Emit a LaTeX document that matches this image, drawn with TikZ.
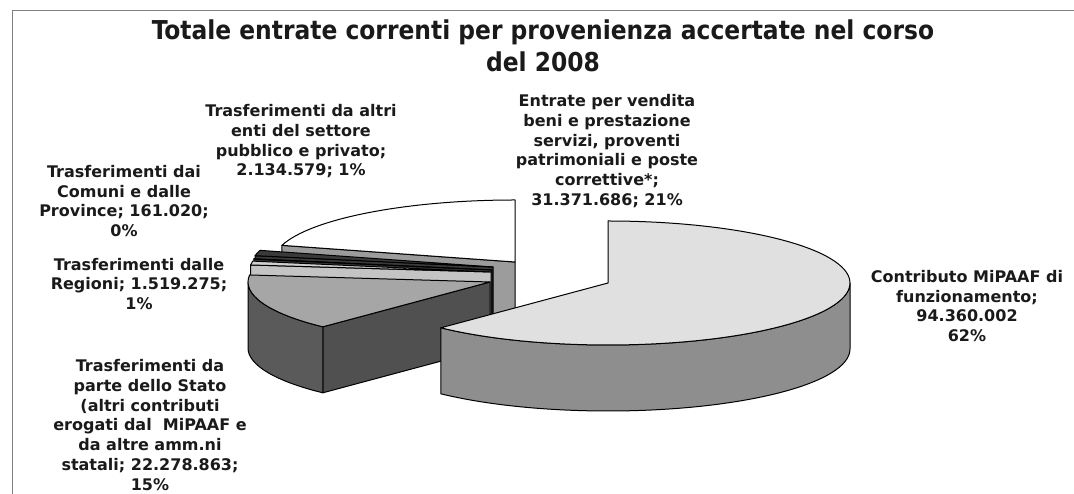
\documentclass[tikz,border=0pt]{standalone}
\usepackage{fontspec}
\setmainfont{DejaVu Sans}
\newfontfamily\titlefont{DejaVu Sans Condensed}
\definecolor{txt}{HTML}{1A1A1A}
\definecolor{frame}{HTML}{808080}
\definecolor{cTop}{HTML}{E0E0E0}
\definecolor{cWall}{HTML}{8E8E8E}
\definecolor{eTop}{HTML}{FFFFFF}
\definecolor{eWall}{HTML}{9C9C9C}
\definecolor{aCol}{HTML}{3A3A3A}
\definecolor{rTop}{HTML}{CFCFCF}
\definecolor{rWall}{HTML}{C4C4C4}
\definecolor{sTop}{HTML}{A6A6A6}
\definecolor{sWall}{HTML}{5A5A5A}
\definecolor{sRad}{HTML}{505050}
\newcommand\pieTop[5]{\filldraw[face,#5] (#1,#2) -- ({#1+242*cos(#3)},{#2+62*sin(#3)}) arc[start angle=#3,end angle=#4,x radius=242,y radius=62] -- cycle;}
\newcommand\pieRad[4]{\filldraw[face,#4] (#1,#2) -- ({#1+242*cos(#3)},{#2+62*sin(#3)}) -- ({#1+242*cos(#3)},{#2+62*sin(#3)-66}) -- (#1,#2-66) -- cycle;}
\newcommand\pieOut[5]{\filldraw[face,#5] ({#1+242*cos(#3)},{#2+62*sin(#3)}) arc[start angle=#3,end angle=#4,x radius=242,y radius=62] -- ++(0,-66) arc[start angle=#4,end angle=#3,x radius=242,y radius=62] -- cycle;}
\tikzset{
  face/.style={draw=black,line width=1pt,line join=round},
  lab/.style={font=\bfseries\fontsize{16}{19.7}\selectfont,text=txt,align=center,inner sep=0pt},
  ttl/.style={font=\titlefont\bfseries\fontsize{26}{32}\selectfont,text=txt,align=center,inner sep=0pt}
}
\begin{document}
\begin{tikzpicture}[x=1pt,y=1pt]
\useasboundingbox (0,0) rectangle (1074,494);
\clip (0,0) rectangle (1074,494);
\fill[white] (0,0) rectangle (1074,494);
\draw[frame,line width=1pt] (12,-10) -- (12,483) -- (1085,483);
% Entrate (21%)
\pieRad{515}{232}{164.4}{fill=eWall}
\pieTop{515}{232}{90}{164.4}{fill=eTop}
% Altri enti (1%)
\pieRad{493}{227}{169.5}{fill=aCol}
\pieTop{493}{227}{164.4}{169.5}{fill=aCol}
% Comuni (0%)
\pieRad{492}{224}{169.9}{fill=aCol}
\pieTop{492}{224}{169.5}{169.9}{fill=aCol}
% Regioni (1%)
\pieRad{491}{222}{173.5}{fill=rWall}
\pieTop{491}{222}{169.9}{173.5}{fill=rTop}
% Stato (15%)
\pieRad{490}{212}{226.3}{fill=sRad}
\pieOut{490}{212}{180}{226.3}{fill=sWall}
\pieTop{490}{212}{173.5}{226.3}{fill=sTop}
% Contributo (62%)
\pieOut{608}{211}{-133.7}{0}{fill=cWall}
\pieTop{608}{211}{-133.7}{90}{fill=cTop}
% labels
\node[ttl] (title) at (543,448) {Totale entrate correnti per provenienza accertate nel corso\\del 2008};
\node[lab] (lAltri) at (301,352.5) {Trasferimenti da altri\\enti del settore\\pubblico e privato;\\2.134.579; 1\%};
\node[lab] (lEntrate) at (607,343) {Entrate per vendita\\beni e prestazione\\servizi, proventi\\patrimoniali e poste\\correttive*;\\31.371.686; 21\%};
\node[lab] (lComuni) at (124,293) {Trasferimenti dai\\Comuni e dalle\\Province; 161.020;\\0\%};
\node[lab] (lRegioni) at (139,210) {Trasferimenti dalle\\Regioni; 1.519.275;\\1\%};
\node[lab] (lStato) at (150,69) {Trasferimenti da\\parte dello Stato\\(altri contributi\\erogati dal~ MiPAAF e\\da altre amm.ni\\statali; 22.278.863;\\15\%};
\node[lab] (lContr) at (967,188) {Contributo MiPAAF di\\funzionamento;\\94.360.002\\62\%};
\end{tikzpicture}
\end{document}
